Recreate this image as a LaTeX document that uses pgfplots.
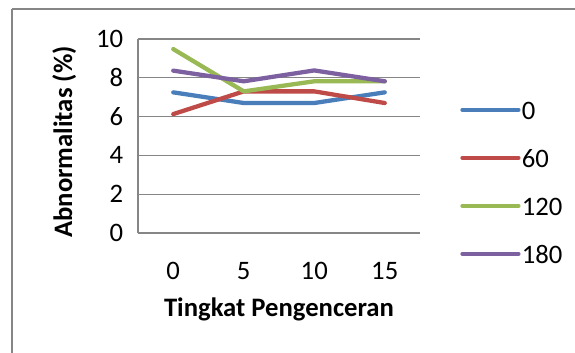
\documentclass[border=0pt]{standalone}
\usepackage{fontspec}
\setmainfont{Carlito}
\usepackage{pgfplots}
\pgfplotsset{compat=1.18}
\definecolor{gridgray}{HTML}{868686}
\definecolor{sblue}{HTML}{4A7EBB}
\definecolor{sred}{HTML}{BE4B48}
\definecolor{sgreen}{HTML}{98B954}
\definecolor{spurple}{HTML}{7D60A0}
\begin{document}
\begin{tikzpicture}
\useasboundingbox (0pt,0pt) rectangle (431.25pt,264.75pt);
\fill[white] (0pt,0pt) rectangle (431.25pt,264.75pt);
\draw[gridgray, line width=1.5pt] (9pt,258pt) -- (9pt,-50pt);
\draw[gridgray, line width=1.5pt] (9pt,258pt) -- (500pt,258pt);
\begin{axis}[
  at={(103.5pt,90pt)}, anchor=south west,
  scale only axis, width=211.5pt, height=145.5pt,
  xmin=-0.5, xmax=3.5, ymin=0, ymax=10,
  xtick={0,1,2,3}, xticklabels={0,5,10,15},
  ytick={0,2,4,6,8,10},
  axis x line*=bottom, axis y line*=left,
  axis line style={gridgray, line width=1pt, -},
  ymajorgrids, major grid style={gridgray, line width=1pt},
  major tick length=0pt,
  /pgf/number format/assume math mode=true,
  tick label style={font=\fontsize{20}{24}\selectfont, inner sep=0pt, text height=12.9pt, text depth=0pt},
  xticklabel style={anchor=north, yshift=-21.75pt},
  yticklabel style={anchor=east, xshift=-11pt},
  xlabel={Tingkat Pengenceran},
  ylabel={Abnormalitas (\%)},
  label style={font=\fontsize{20}{24}\bfseries\selectfont, inner sep=0pt},
  xlabel style={at={(axis description cs:0.5,0)}, anchor=base, yshift=-63pt},
  ylabel style={at={(axis description cs:-0.234,0.469)}, anchor=base},
  legend style={draw=none, fill=none, at={(axis description cs:1.142,0.677)}, anchor=north west,
    inner sep=0pt, row sep=21pt, column sep=1pt,
    nodes={font=\fontsize{20}{24}\selectfont, inner sep=0pt, text height=13pt, text depth=2pt}},
  legend cell align=left,
  legend image code/.code={\draw[#1] (0pt,1.5pt) -- (42pt,1.5pt);},
  every axis plot/.append style={line width=3.2pt, line cap=round, line join=round},
  clip=false,
]
\addplot[sblue] coordinates {(0,7.25) (1,6.70) (2,6.70) (3,7.25)};
\addlegendentry{0}
\addplot[sred] coordinates {(0,6.13) (1,7.30) (2,7.30) (3,6.70)};
\addlegendentry{60}
\addplot[sgreen] coordinates {(0,9.48) (1,7.30) (2,7.82) (3,7.82)};
\addlegendentry{120}
\addplot[spurple] coordinates {(0,8.37) (1,7.82) (2,8.38) (3,7.82)};
\addlegendentry{180}
\end{axis}
\end{tikzpicture}
\end{document}
